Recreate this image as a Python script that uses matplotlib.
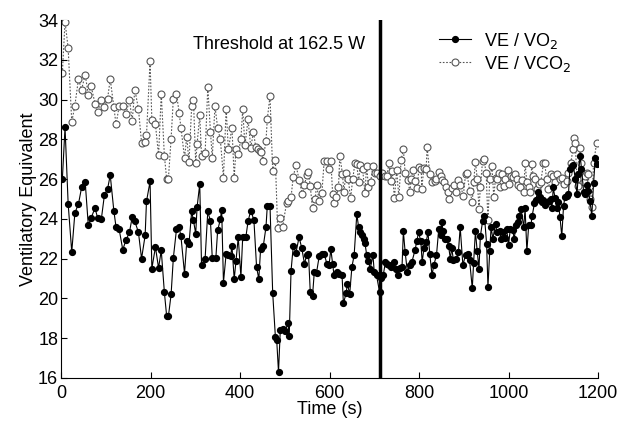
import matplotlib
matplotlib.use("Agg")
import matplotlib.pyplot as plt

plt.rcParams['font.family'] = ['Liberation Sans', 'DejaVu Sans']

t_vo2 = [3, 9, 16, 24, 31, 39, 46, 54, 61, 67, 76, 82, 90, 97, 104, 110,
         118, 123, 130, 138, 145, 153, 159, 165, 173, 180, 188, 191, 199, 203, 211, 218, 224, 231, 236,
         240, 246, 251, 258, 264, 268, 276, 281, 286, 292, 296, 301, 304, 310, 314, 322, 328, 334, 338, 346, 350, 356,
         359, 363, 369, 374, 379, 382, 387, 391, 396, 402, 406, 413, 418, 424, 431, 437, 442, 446, 452, 458, 461, 467, 473, 479,
         482, 486, 490, 495, 501, 507, 510, 514, 519, 525, 532, 538, 544, 549, 553, 557, 562, 566, 571, 577, 583, 588, 594, 599,
         603, 607, 610, 616, 622, 628, 631, 637, 640, 645, 650, 655, 661, 665, 668, 672, 676, 679, 683, 687, 691, 697, 700, 705, 712, 714, 720, 725,
         728, 733, 738, 743, 748, 752, 757, 762, 765, 769, 774, 779, 784, 791, 795, 799, 804, 807, 811, 816, 820, 824, 829, 833, 839, 844,
         848, 851, 854, 858, 862, 866, 870, 873, 877, 883, 888, 892, 898, 904, 909, 913, 919, 922, 926, 930, 934, 937, 942, 946, 951, 954, 958, 961, 965, 971,
         974, 980, 984, 987, 991, 996, 1000, 1004, 1009, 1013, 1016, 1021, 1024, 1028, 1034, 1037, 1041, 1045, 1050, 1053, 1058, 1061, 1065, 1070, 1074, 1078, 1082, 1085, 1091, 1095,
         1097, 1100, 1104, 1108, 1111, 1115, 1119, 1123, 1126, 1130, 1134, 1137, 1141, 1145, 1149, 1153, 1156, 1160, 1163, 1168, 1171, 1175, 1178, 1182, 1186, 1190, 1194, 1197]
ve_vo2 = [26.0, 28.6, 24.75, 22.33, 24.3, 24.75, 25.58, 25.87, 23.67, 24.03, 24.55, 24.03, 23.97, 25.2, 25.5, 26.2,
          24.42, 23.58, 23.47, 22.45, 22.92, 23.33, 24.08, 23.87, 23.33, 22.0, 23.17, 24.88, 25.88, 21.5, 22.58, 21.53, 22.42, 20.3, 19.13,
          19.1, 20.2, 22.03, 23.47, 23.58, 23.12, 21.25, 22.87, 22.75, 24.38, 23.92, 23.25, 24.58, 25.75, 21.7, 22.0, 24.38, 23.88, 22.03, 22.03, 23.42, 23.97,
          24.47, 20.8, 22.25, 22.17, 22.13, 22.63, 20.97, 21.88, 23.08, 21.08, 23.08, 23.08, 23.88, 24.42, 23.95, 21.58, 20.97, 22.5, 22.63, 23.58, 24.67, 24.67, 20.28, 18.08,
          17.9, 16.3, 18.42, 18.47, 18.37, 18.75, 18.13, 21.38, 22.63, 22.3, 23.08, 22.53, 21.75, 22.17, 22.25, 20.3, 20.13, 21.33, 21.3, 22.13, 22.25, 22.25, 21.75, 21.7,
          22.47, 21.75, 21.17, 21.33, 21.25, 21.17, 19.75, 20.25, 20.75, 20.2, 21.58, 22.17, 24.25, 23.58, 23.33, 23.17, 22.97, 22.8, 22.2, 21.87, 21.5, 22.17, 21.33, 21.17, 20.3, 21.03, 21.17, 21.83,
          21.75, 21.7, 21.58, 21.83, 21.5, 21.17, 21.53, 21.58, 23.37, 22.33, 21.33, 21.7, 21.83, 22.42, 22.87, 23.33, 22.87, 21.83, 22.53, 22.83, 23.33, 22.25, 21.17, 21.67, 22.17, 23.47,
          23.17, 23.83, 23.37, 23.0, 23.0, 22.63, 22.0, 22.53, 21.92, 21.97, 22.33, 23.58, 21.67, 22.2, 22.25, 21.92, 20.5, 21.8, 23.37, 22.38, 21.5, 23.12, 23.87, 24.17, 22.75, 20.58, 22.37, 23.58, 23.0, 23.75,
          23.33, 23.37, 23.0, 23.33, 23.03, 23.47, 22.67, 23.5, 23.42, 23.0, 23.67, 23.83, 24.17, 24.5, 23.58, 24.53, 22.37, 23.67, 23.7, 24.17, 24.8, 24.97, 25.33, 25.08, 24.83, 24.97, 24.7, 24.83, 24.92, 25.0,
          24.53, 25.58, 25.03, 24.53, 24.87, 24.08, 23.13, 24.67, 25.08, 25.17, 25.25, 26.5, 26.67, 26.7, 26.0, 25.25, 26.25, 27.17, 26.53, 25.33, 25.25, 25.7, 25.42, 24.92, 24.13, 25.8, 27.08, 26.75]

t_vco2 = [3, 9, 16, 24, 31, 39, 46, 54, 61, 67, 76, 82, 90, 97, 104, 110,
          118, 123, 130, 138, 145, 153, 159, 165, 173, 180, 188, 191, 199, 203, 211, 218, 224, 231, 236,
          240, 246, 251, 258, 264, 268, 276, 281, 286, 292, 296, 301, 304, 310, 314, 322, 328, 334, 338, 344, 350, 356,
          363, 369, 374, 382, 387, 391, 396, 402, 406, 411, 418, 424, 430, 435, 440, 444, 448, 451, 458, 461, 467, 473, 479,
          484, 490, 495, 504, 508, 514, 519, 525, 532, 539, 544, 549, 553, 557, 562, 568, 571, 577, 583, 588, 594, 599,
          603, 607, 610, 615, 620, 623, 629, 632, 637, 642, 647, 652, 657, 661, 665, 668, 674, 679, 683, 687, 692, 697, 702, 707, 713, 717, 724,
          728, 733, 738, 740, 745, 750, 755, 760, 765, 769, 776, 779, 783, 786, 792, 796, 800, 805, 806, 811, 816, 818, 824, 829, 835, 839, 844,
          848, 851, 856, 861, 864, 868, 873, 878, 883, 888, 892, 899, 904, 907, 913, 919, 922, 926, 930, 934, 937, 942, 945, 950, 954, 958, 963, 967, 971,
          974, 978, 981, 985, 989, 992, 998, 1001, 1005, 1010, 1015, 1018, 1022, 1026, 1030, 1034, 1037, 1041, 1045, 1048, 1052, 1055, 1059, 1063, 1067, 1072, 1078, 1081, 1085, 1089, 1095,
          1099, 1104, 1108, 1114, 1119, 1124, 1130, 1134, 1139, 1144, 1147, 1149, 1153, 1156, 1160, 1163, 1168, 1171, 1175, 1178, 1182, 1186, 1190, 1197]
ve_vco2 = [31.33, 33.92, 32.58, 28.87, 29.7, 31.03, 30.5, 31.25, 30.25, 30.7, 29.8, 29.37, 30.0, 29.63, 30.03, 31.03,
           29.63, 28.75, 29.67, 29.7, 29.25, 30.0, 28.92, 30.5, 29.53, 27.83, 27.87, 28.2, 31.92, 28.97, 28.75, 27.2, 30.28, 27.17, 26.03,
           26.03, 28.03, 30.05, 30.3, 29.33, 28.58, 27.08, 28.12, 26.87, 29.67, 29.97, 26.8, 27.75, 29.2, 27.17, 27.3, 30.63, 28.37, 27.08, 29.67, 28.58, 28.0,
           26.08, 29.53, 27.5, 28.58, 26.08, 27.5, 27.25, 28.03, 29.5, 27.7, 29.0, 27.58, 28.37, 27.63, 27.53, 27.42, 27.37, 26.92, 27.92, 29.03, 30.17, 26.42, 26.97,
           23.53, 24.03, 23.58, 24.8, 24.92, 25.08, 26.13, 26.7, 25.97, 25.25, 25.7, 26.2, 26.37, 25.63, 24.53, 25.0, 25.7, 24.92, 25.3, 26.92, 26.92, 26.5,
           26.92, 25.25, 24.8, 25.08, 25.58, 27.17, 26.25, 25.37, 26.33, 26.0, 25.03, 26.03, 26.83, 26.75, 25.83, 26.7, 26.5, 25.3, 26.67, 25.58, 25.87, 26.67, 26.33, 26.3, 26.17, 26.33, 26.17,
           26.17, 26.8, 25.92, 26.42, 25.03, 26.45, 25.08, 26.97, 27.5, 26.33, 25.97, 25.33, 26.0, 26.47, 25.92, 25.55, 26.63, 26.53, 25.5, 26.58, 26.5, 27.62, 26.28, 25.83, 25.92, 26.0, 26.37,
           26.17, 25.97, 25.87, 25.58, 25.37, 25.0, 25.53, 25.7, 25.37, 25.97, 25.7, 25.17, 26.25, 26.33, 25.42, 24.87, 25.83, 26.87, 26.03, 24.5, 25.58, 26.92, 27.0, 26.3, 23.92, 26.0, 26.67, 25.08, 26.08,
           26.03, 26.33, 25.58, 26.25, 25.67, 26.0, 26.47, 25.75, 26.17, 26.13, 26.25, 26.03, 25.7, 25.58, 25.97, 25.33, 26.8, 25.83, 25.58, 25.33, 26.75, 26.17, 26.0, 25.5, 25.75, 25.83, 26.8, 26.8, 26.0, 25.5, 26.25,
           26.17, 25.83, 26.25, 26.03, 26.08, 25.75, 25.92, 26.33, 26.8, 27.5, 28.08, 27.83, 26.0, 25.67, 27.58, 26.8, 25.83, 26.17, 26.3, 26.25, 25.0, 24.58, 26.8, 27.83]

threshold_time = 712
threshold_label = "Threshold at 162.5 W"
x_ticks = [0, 200, 400, 600, 800, 1000, 1200]
y_ticks = [16, 18, 20, 22, 24, 26, 28, 30, 32, 34]

fig = plt.figure(figsize=(6.27, 4.22), dpi=100)
ax = fig.add_axes([0.0973, 0.1043, 0.8565, 0.8483])

ax.plot(t_vo2, ve_vo2, '-', color='black', lw=0.8, marker='o', ms=4.2,
        mfc='black', mec='black', label='VE / VO$_2$', zorder=3)
ax.plot(t_vco2, ve_vco2, linestyle=(0, (1.5, 1.5)), color='#555555', lw=0.8, marker='o', ms=5,
        mfc='white', mec='#555555', mew=0.8, label='VE / VCO$_2$', zorder=2)

ax.axvline(threshold_time, color='black', lw=2.5, zorder=4)
ax.text(680, 32.75, threshold_label, ha='right', va='center', fontsize=13)

ax.set_xlim(0, 1200)
ax.set_ylim(16, 34)
ax.set_xticks(x_ticks)
ax.set_yticks(y_ticks)
ax.tick_params(direction='in', labelsize=13, length=4)
ax.tick_params(axis='y', pad=2)
ax.tick_params(axis='x', pad=5)
for s in ['top', 'right']:
    ax.spines[s].set_visible(False)
ax.set_xlabel('Time (s)', fontsize=13, labelpad=-1)
ax.set_ylabel('Ventilatory Equivalent', fontsize=13, labelpad=1)

ax.legend(loc='upper left', bbox_to_anchor=(0.69, 0.99), frameon=False, fontsize=13,
          handlelength=1.8, handletextpad=0.7, labelspacing=0.15, borderaxespad=0)

fig.savefig('out.png', dpi=100)
